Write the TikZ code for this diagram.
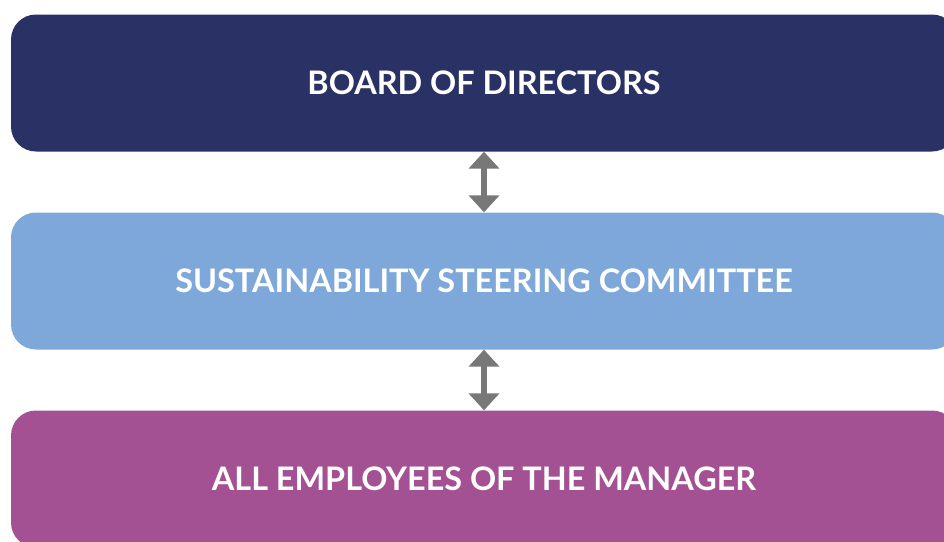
\documentclass[tikz,border=0pt]{standalone}
\usepackage{fontspec}
\setmainfont{Lato}
\usepackage{tikz}
\usetikzlibrary{positioning, arrows.meta}
\definecolor{BoardBlue}{RGB}{42,49,101}
\definecolor{SkyBlue}{RGB}{127,168,218}
\definecolor{Plum}{RGB}{163,81,146}
\definecolor{ArrowGray}{RGB}{120,120,120}
\begin{document}
\begin{tikzpicture}[x=1pt, y=-1pt,
    caja/.style={rectangle, rounded corners=25pt, minimum width=946pt, minimum height=137pt,
        inner sep=0pt, text=white, font=\fontsize{32.4}{36}\selectfont\bfseries},
    flecha/.style={{Triangle[width=30pt,length=17pt]}-{Triangle[width=30pt,length=17pt]}, line width=6pt, ArrowGray}]
                \useasboundingbox (0,0) rectangle (944,541);
                % Cajas
                \node[caja, fill=BoardBlue] (board) at (484,83) {BOARD OF DIRECTORS};
                \node[caja, fill=SkyBlue] (committee) at (484,281) {SUSTAINABILITY STEERING COMMITTEE};
                \node[caja, fill=Plum] (employees) at (484,479) {ALL EMPLOYEES OF THE MANAGER};
                
                % Flechas
                \draw[flecha] (board) -- (committee);
                \draw[flecha] (committee) -- (employees);
            \end{tikzpicture}
\end{document}
